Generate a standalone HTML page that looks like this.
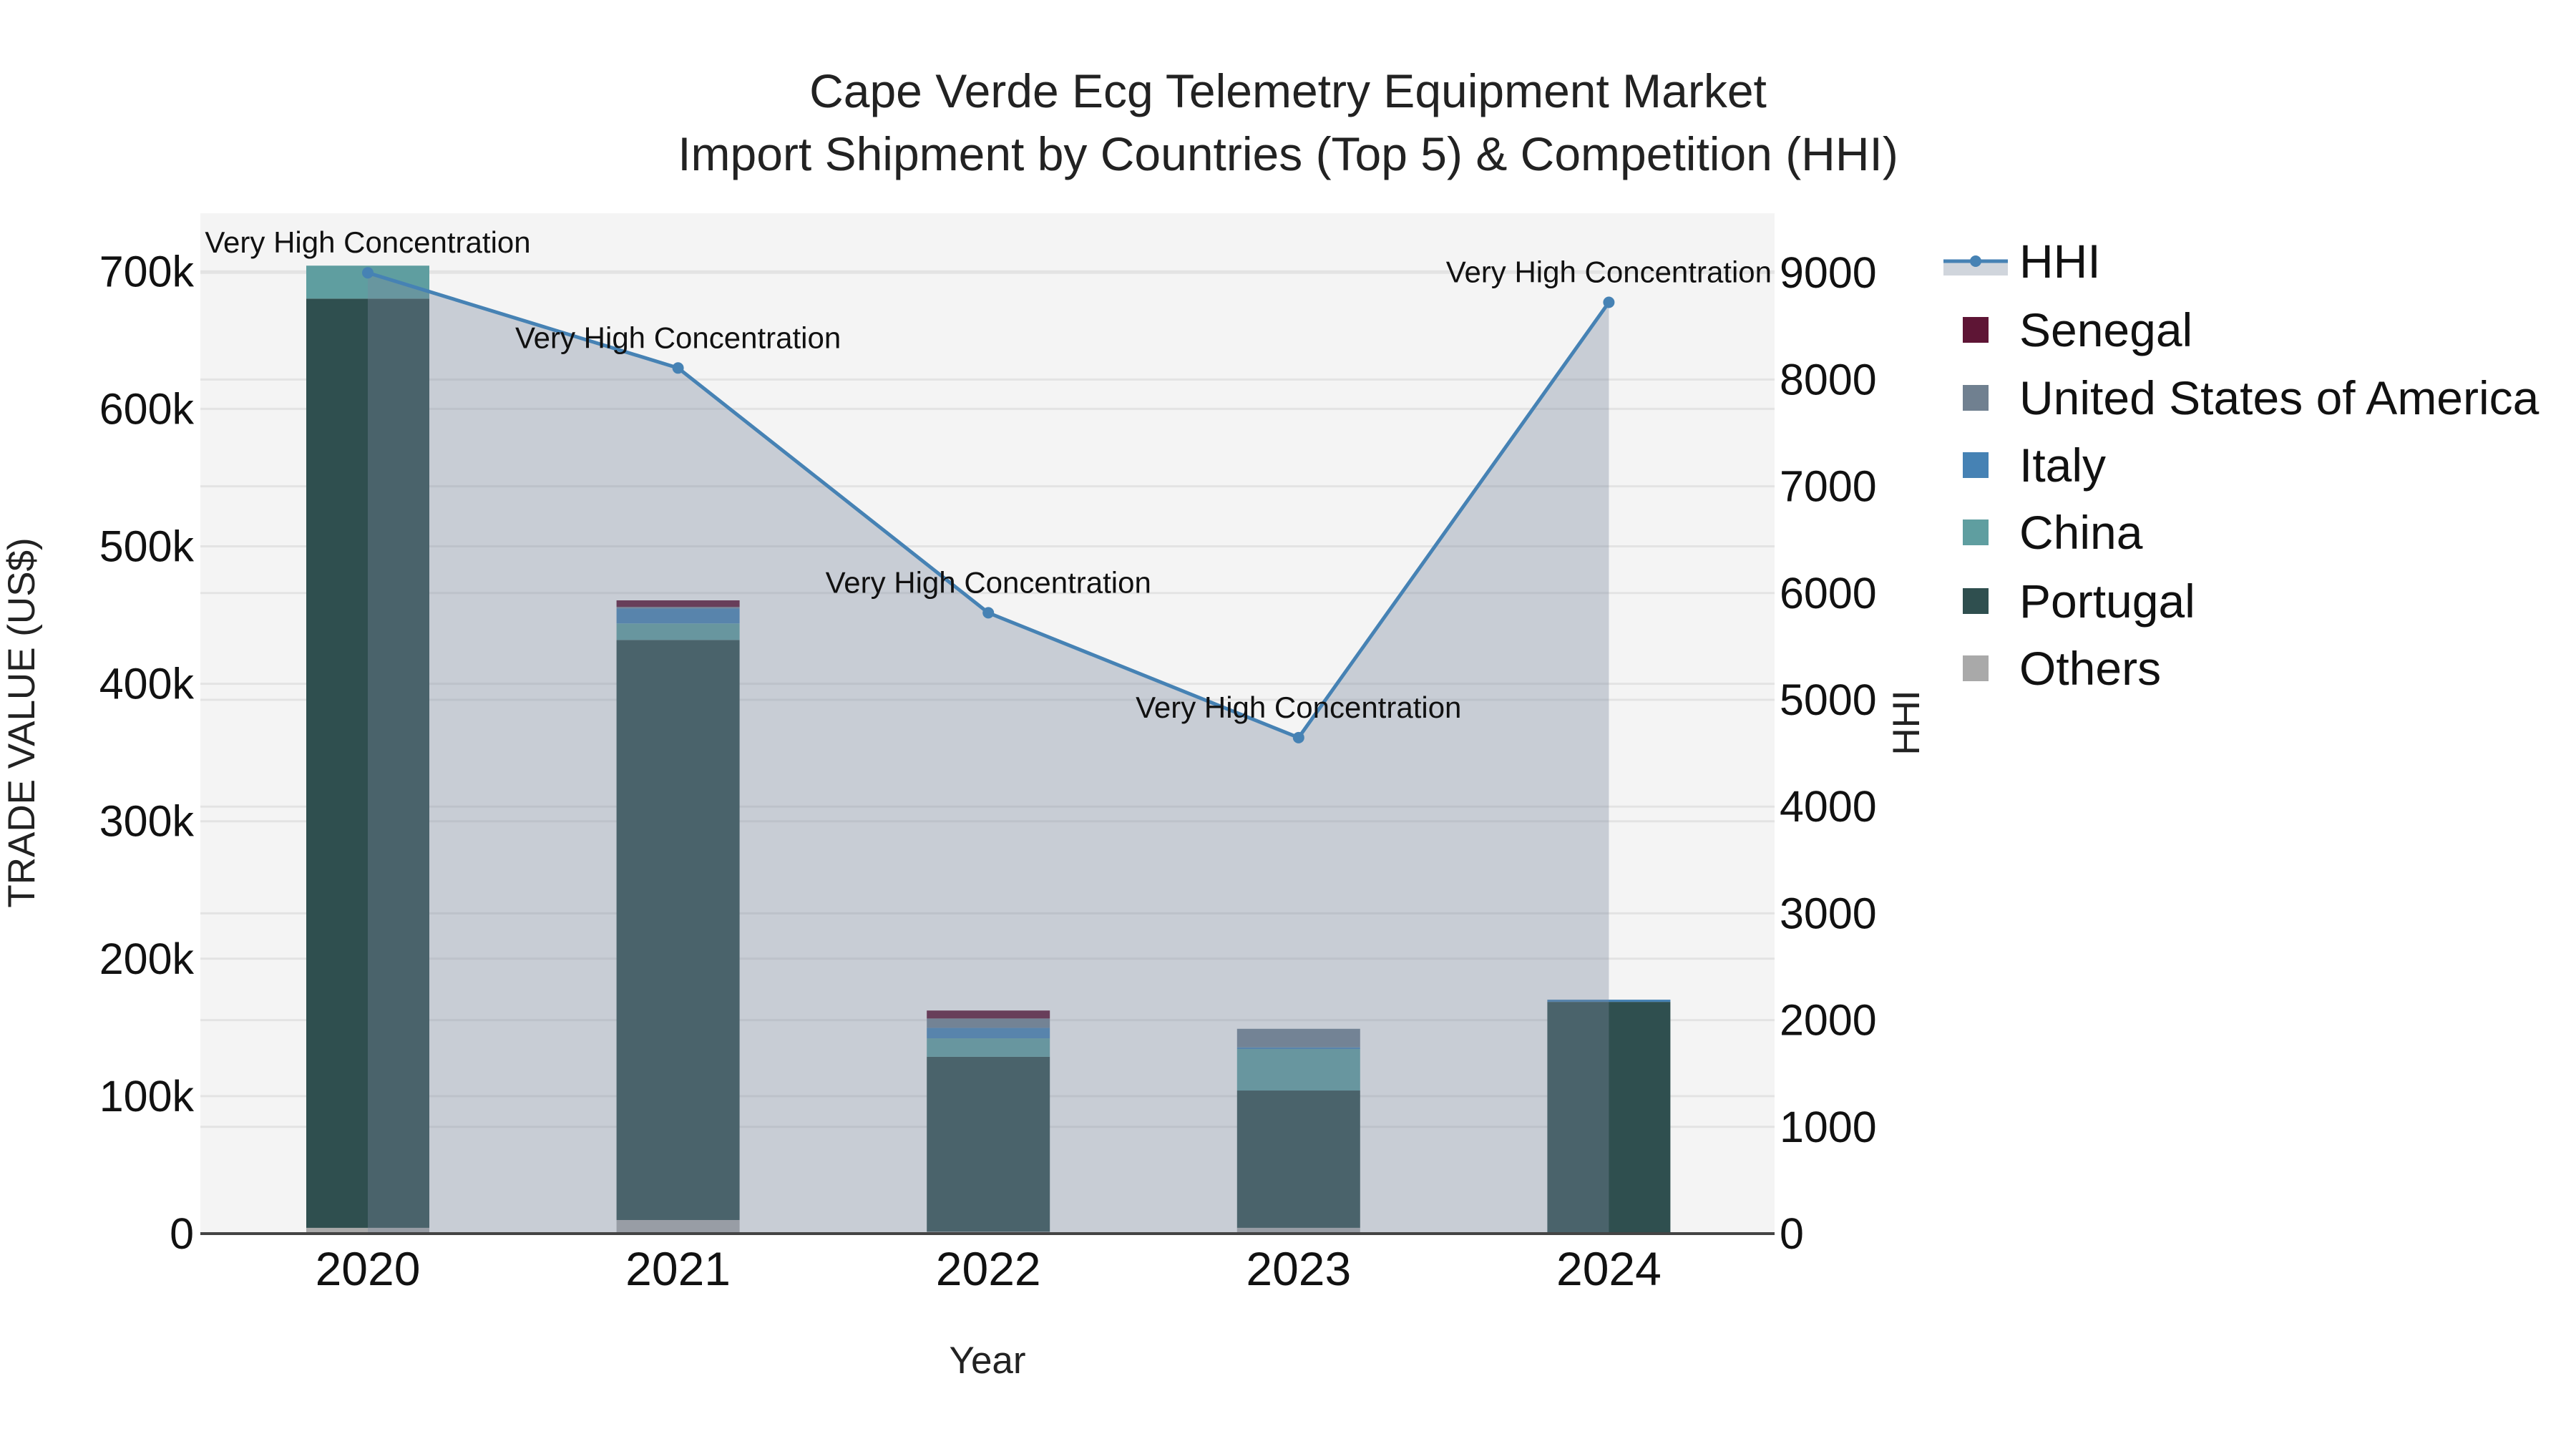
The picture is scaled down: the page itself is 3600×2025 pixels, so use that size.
<!DOCTYPE html>
<html><head><meta charset="utf-8"><style>
html,body{margin:0;padding:0;background:#fff;}
svg{display:block;font-family:"Liberation Sans",sans-serif;}
</style></head><body>
<svg id="chart" width="3600" height="2025" viewBox="0 0 3600 2025" xmlns="http://www.w3.org/2000/svg"></svg>
<script>
const categories = ["2020","2021","2022","2023","2024"];
const seriesNames = ["Others","Portugal","China","Italy","United States of America","Senegal"];
const others = [4200, 9900, 1400, 4200, 300];
const portugal = [676000, 422000, 127200, 99900, 168300];
const china = [24000, 12000, 13500, 30200, 0];
const italy = [0, 11000, 7600, 1200, 1600];
const usa = [0, 1000, 6800, 13500, 0];
const senegal = [0, 4800, 5800, 0, 0];
const hhi = [9000, 8108, 5815, 4646, 8723];
const hhiLabels = ["Very High Concentration","Very High Concentration","Very High Concentration","Very High Concentration","Very High Concentration"];
const leftTicks = [0,100000,200000,300000,400000,500000,600000,700000];
const leftTickLabels = ["0","100k","200k","300k","400k","500k","600k","700k"];
const rightTicks = [0,1000,2000,3000,4000,5000,6000,7000,8000,9000];
const rightTickLabels = ["0","1000","2000","3000","4000","5000","6000","7000","8000","9000"];

const colors = {"Others":"#a9a9a9","Portugal":"#2f4f4f","China":"#5f9ea0","Italy":"#4682b4","United States of America":"#708090","Senegal":"#5e1535"};
const seriesVals = [others, portugal, china, italy, usa, senegal];

const NS="http://www.w3.org/2000/svg";
const svg=document.getElementById('chart');
function mk(tag, attrs, parent){const e=document.createElementNS(NS,tag);for(const k in attrs)e.setAttribute(k,attrs[k]);(parent||svg).appendChild(e);return e;}

const PL=280, PR=2480, PT=298, PB=1724;
const yL = v => PB - v/100000*192.1;
const yR = v => PB - v/1000*149.2;
const xC = i => 514 + i*433.6;
const BW = 172;

const bg=mk('rect',{x:PL,y:PT,width:PR-PL,height:PB-PT,fill:'#f4f4f4'});



leftTicks.forEach((t,i)=>{
  const l=mk('line',{x1:PL,x2:PR,y1:yL(t),y2:yL(t),stroke:'#e3e3e3','stroke-width':3});
  
  
  const tx=mk('text',{x:271,y:yL(t)+21,'text-anchor':'end','font-size':61,fill:'#111'});
  tx.textContent=leftTickLabels[i];
  
  
});
rightTicks.forEach((t,i)=>{
  const l=mk('line',{x1:PL,x2:PR,y1:yR(t),y2:yR(t),stroke:'#e3e3e3','stroke-width':3});
  
  
  const tx=mk('text',{x:2487,y:yR(t)+21,'text-anchor':'start','font-size':61,fill:'#111'});
  tx.textContent=rightTickLabels[i];
  
  
});

categories.forEach((c,i)=>{
  let base=0;
  seriesVals.forEach((arr,s)=>{
    const v=arr[i]; if(v<=0)return;
    const r=mk('rect',{x:xC(i)-BW/2,y:yL(base+v),width:BW,height:yL(base)-yL(base+v),fill:colors[seriesNames[s]]});
    
    
    base+=v;
  });
  const xt=mk('text',{x:xC(i),y:1796,'text-anchor':'middle','font-size':66,fill:'#111'});
  xt.textContent=c;
  
  
});

let pts=categories.map((c,i)=>xC(i)+','+yR(hhi[i])).join(' ');
const area=mk('polygon',{points:xC(0)+','+PB+' '+pts+' '+xC(categories.length-1)+','+PB,fill:'rgba(122,135,158,0.36)'});


const zl=mk('line',{x1:PL,x2:PR,y1:PB,y2:PB,stroke:'#444','stroke-width':4});


const line=mk('polyline',{points:pts,fill:'none',stroke:'#4682b4','stroke-width':5});


categories.forEach((c,i)=>{
  const p=mk('circle',{cx:xC(i),cy:yR(hhi[i]),r:8,fill:'#4682b4'});
  
  
  const t=mk('text',{x:xC(i),y:yR(hhi[i])-28,'text-anchor':'middle','font-size':42,fill:'#111'});
  t.textContent=hhiLabels[i];
  
  
});
</script>
<svg style="position:absolute;left:0;top:0" width="3600" height="2025" xmlns="http://www.w3.org/2000/svg" font-family="Liberation Sans, sans-serif">
  <text x="1800" y="150" text-anchor="middle" font-size="66" fill="#222">Cape Verde Ecg Telemetry Equipment Market</text>
  <text x="1800" y="238" text-anchor="middle" font-size="66" fill="#222">Import Shipment by Countries (Top 5) &amp; Competition (HHI)</text>
  <text x="48" y="1010" transform="rotate(-90 48 1010)" text-anchor="middle" font-size="53" fill="#222">TRADE VALUE (US$)</text>
  <text x="2682" y="1010" transform="rotate(-90 2682 1010)" text-anchor="middle" font-size="53" fill="#222">HHI</text>
  <text x="1380" y="1919" text-anchor="middle" font-size="53" fill="#222">Year</text>
  <g font-size="66" fill="#111">
    <g>
      <rect x="2716" y="365" width="90" height="20" fill="#d0d5dc"/>
      <line x1="2716" x2="2806" y1="365" y2="365" stroke="#4682b4" stroke-width="5"/>
      <circle cx="2761" cy="365" r="8" fill="#4682b4"/>
      <text x="2822" y="388">HHI</text>
    </g>
    <g><rect x="2743" y="443" width="36" height="36" fill="#5e1535"/><text x="2822" y="484">Senegal</text></g>
    <g><rect x="2743" y="538" width="36" height="36" fill="#708090"/><text x="2822" y="579">United States of America</text></g>
    <g><rect x="2743" y="632" width="36" height="36" fill="#4682b4"/><text x="2822" y="673">Italy</text></g>
    <g><rect x="2743" y="726" width="36" height="36" fill="#5f9ea0"/><text x="2822" y="767">China</text></g>
    <g><rect x="2743" y="822" width="36" height="36" fill="#2f4f4f"/><text x="2822" y="863">Portugal</text></g>
    <g><rect x="2743" y="916" width="36" height="36" fill="#a9a9a9"/><text x="2822" y="957">Others</text></g>
  </g>
</svg>
</body></html>
